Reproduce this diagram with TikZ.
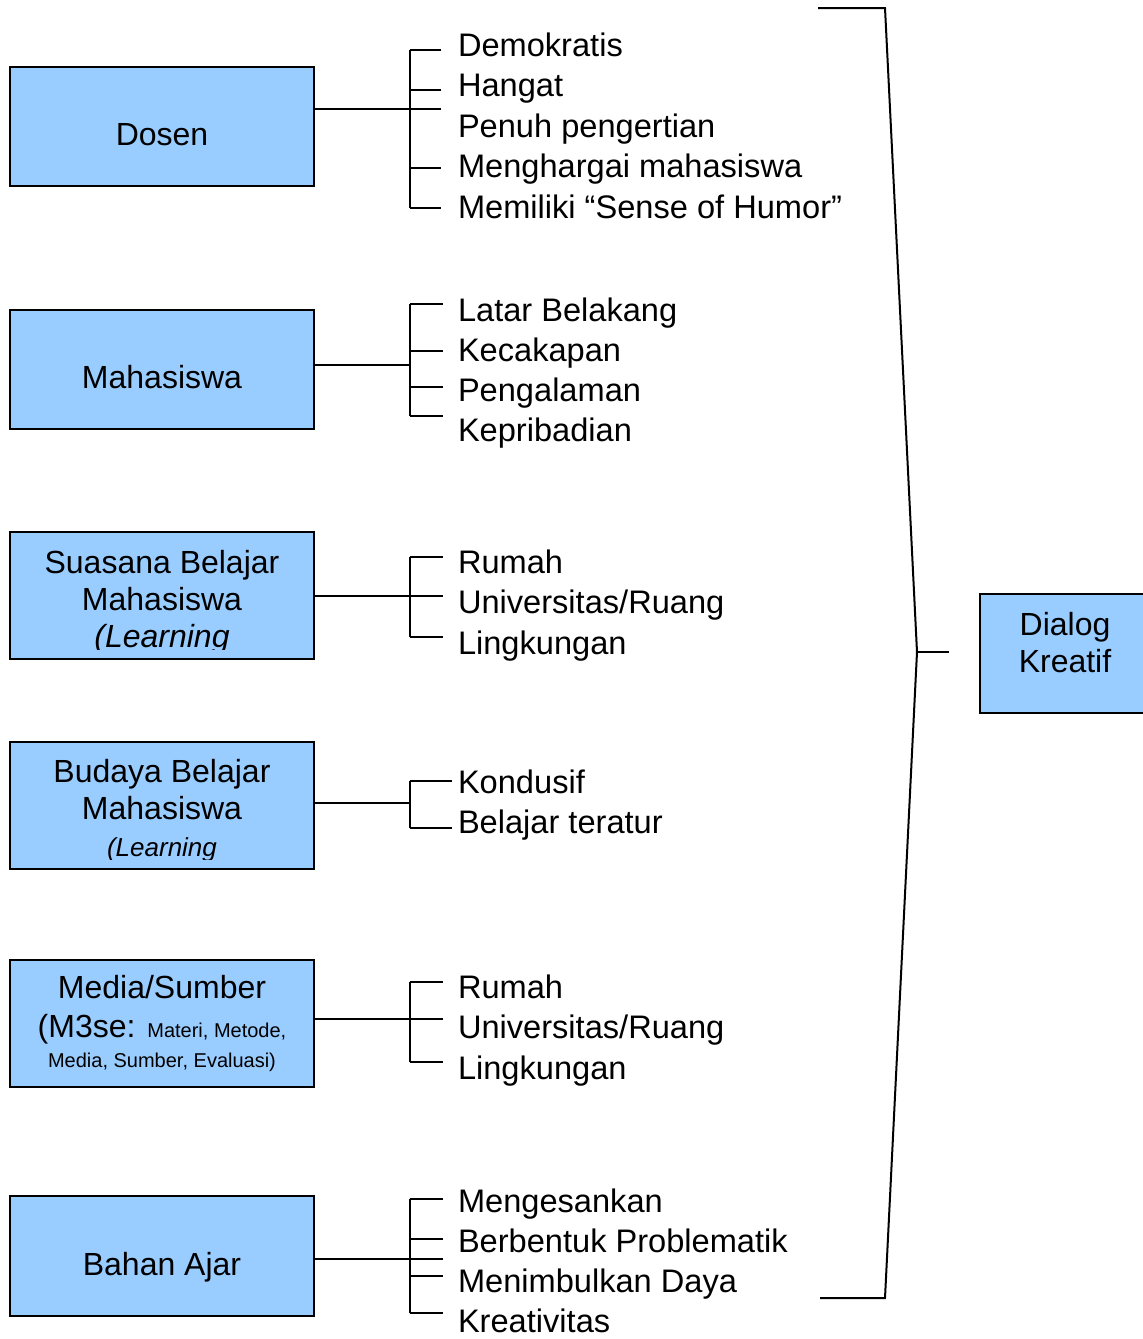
\documentclass[tikz,border=0pt]{standalone}
\usepackage{fontspec}
\setmainfont{Liberation Sans}
\usetikzlibrary{positioning}
\definecolor{boxblue}{HTML}{99CCFF}

\begin{document}
\begin{tikzpicture}[x=0.5pt,y=-0.5pt,line width=1pt,
  box/.style={draw,fill=boxblue,minimum width=152pt,minimum height=59.5pt,
    inner sep=0pt,align=center,font=\fontsize{16}{18.5}\selectfont},
  lowtext/.style={text height=19pt,text depth=0pt},
  boxtext/.style={inner sep=0pt,align=center,font=\fontsize{16}{18.5}\selectfont},
  item/.style={anchor=base west,inner sep=0pt,font=\fontsize{16.3}{20}\selectfont}]
  \useasboundingbox (0,0) rectangle (1142,1339);

  % Dosen
  \node[box,lowtext] (dosen) at (162,126.5) {Dosen};
  \coordinate (dosenj) at (410,109);
  \draw (dosen.east |- dosenj) -- (dosenj);
  \draw (410,50) -- (410,208);
  \foreach \y in {50,90,109,168,208} \draw (410,\y) -- (441,\y);
  \foreach \t [count=\i] in {Demokratis,Hangat,Penuh pengertian,
      Menghargai mahasiswa,Memiliki “Sense of Humor”}
    \node[item] (dosen\i) at (457,{15.5+40.5*\i}) {\t};

  % Mahasiswa
  \node[box,lowtext] (mhs) at (162,369.5) {Mahasiswa};
  \coordinate (mhsj) at (410,365);
  \draw (mhs.east |- mhsj) -- (mhsj);
  \draw (410,304) -- (410,416);
  \foreach \y in {304,351,387,416} \draw (410,\y) -- (443,\y);
  \foreach \t [count=\i] in {Latar Belakang,Kecakapan,Pengalaman,Kepribadian}
    \node[item] (mhs\i) at (457,{280.7+40.3*\i}) {\t};

  % Suasana belajar
  \node[box,minimum height=63.5pt] (suasana) at (162,595.5) {};
  \begin{scope}
    \clip (suasana.north west) rectangle ([yshift=5.5pt]suasana.south east);
    \node[boxtext] (suasanatxt) at (162,602)
      {Suasana Belajar\\Mahasiswa\\\textit{(Learning}};
  \end{scope}
  \coordinate (suasanaj) at (410,596);
  \draw (suasana.east |- suasanaj) -- (suasanaj);
  \draw (410,557) -- (410,637);
  \foreach \y in {557,596,637} \draw (410,\y) -- (443,\y);
  \foreach \t [count=\i] in {Rumah,Universitas/Ruang,Lingkungan}
    \node[item] (suasana\i) at (457,{532.5+40.5*\i}) {\t};

  % Budaya belajar
  \node[box,minimum height=63.5pt] (budaya) at (162,805.5) {};
  \begin{scope}
    \clip (budaya.north west) rectangle ([yshift=5.5pt]budaya.south east);
    \node[boxtext] (budayatxt) at (162,811)
      {Budaya Belajar\\Mahasiswa\\{\fontsize{13}{18.5}\selectfont\textit{(Learning}}};
  \end{scope}
  \coordinate (budayaj) at (410,803);
  \draw (budaya.east |- budayaj) -- (budayaj);
  \draw (410,781) -- (410,828);
  \foreach \y in {781,828} \draw (410,\y) -- (452,\y);
  \foreach \t [count=\i] in {Kondusif,Belajar teratur}
    \node[item] (budaya\i) at (457,{753+40*\i}) {\t};

  % Media / sumber
  \node[box,minimum height=63.5pt,font=\fontsize{16}{15}\selectfont] (media) at (162,1023)
    {Media/Sumber\\[4.5pt](M3se: {\fontsize{10}{15}\selectfont Materi, Metode,}\\
     {\fontsize{10}{15}\selectfont Media, Sumber, Evaluasi)}};
  \coordinate (mediaj) at (410,1019);
  \draw (media.east |- mediaj) -- (mediaj);
  \draw (410,982) -- (410,1062);
  \foreach \y in {982,1019,1062} \draw (410,\y) -- (443,\y);
  \foreach \t [count=\i] in {Rumah,Universitas/Ruang,Lingkungan}
    \node[item] (media\i) at (457,{957.5+40.5*\i}) {\t};

  % Bahan ajar
  \node[box,lowtext,minimum height=60pt] (bahan) at (162,1256) {Bahan Ajar};
  \coordinate (bahanj) at (410,1259);
  \draw (bahan.east |- bahanj) -- (bahanj);
  \draw (410,1199) -- (410,1313);
  \foreach \y in {1199,1239,1259,1276,1313} \draw (410,\y) -- (443,\y);
  \foreach \t [count=\i] in {Mengesankan,Berbentuk Problematik,
      Menimbulkan Daya,Kreativitas}
    \node[item] (bahan\i) at (457,{1172+40*\i}) {\t};

  % kurung besar ke Dialog Kreatif
  \node[box,minimum width=85pt] (dialog) at (1065,653.5) {};
  \node[boxtext] (dialogtxt) at (1065,643) {Dialog\\Kreatif};
  \coordinate (bracetop) at (885,8);
  \coordinate (bracemid) at (917,652);
  \coordinate (bracebot) at (885,1298);
  \coordinate (dialogin) at (949,652);
  \draw (818,8) -- (bracetop) -- (bracemid) -- (bracebot) -- (820,1298);
  \draw (bracemid) -- (dialogin);
\end{tikzpicture}
\end{document}
